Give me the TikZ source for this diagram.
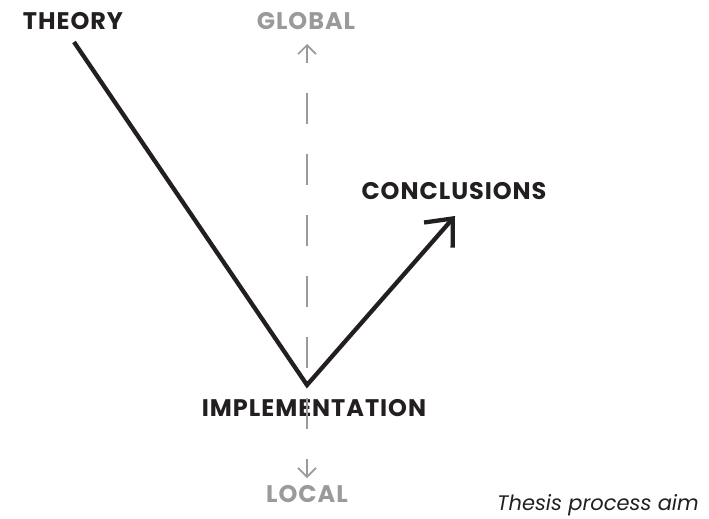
\documentclass[tikz,border=0pt]{standalone}
\usepackage{fontspec}
\setmainfont{Poppins}
\usepackage{xcolor}
\usetikzlibrary{arrows.meta, positioning}

\definecolor{inkdark}{HTML}{231F20}
\definecolor{scalegray}{HTML}{9A9A9A}

\begin{document}
\begin{tikzpicture}[x=1pt, y=-1pt,
    stage/.style={inner sep=0pt, text=inkdark, font=\fontsize{24}{24}\selectfont\bfseries\addfontfeature{LetterSpace=4}},
    scale label/.style={stage, text=scalegray},
    path line/.style={draw=inkdark, line width=4.3pt, line join=miter, -{Straight Barb[length=22pt, width=38pt]}},
    scale line/.style={draw=scalegray, line width=1.6pt, dash pattern=on 31pt off 30pt, dash phase=14pt,
        {Straight Barb[length=9pt, width=18pt]}-{Straight Barb[length=9pt, width=18pt]}}]
    \useasboundingbox (0, 0) rectangle (709, 519);

    \node[stage] (theory) at (73, 21) {THEORY};
    \node[scale label] (global) at (306, 21) {GLOBAL};
    \node[stage] (conclusions) at (454, 191) {CONCLUSIONS};
    \node[stage] (implementation) at (314, 408) {IMPLEMENTATION};
    \node[scale label] (local) at (307, 494) {LOCAL};
    \node[anchor=base west, inner sep=0pt, text=inkdark, font=\fontsize{21}{21}\selectfont\itshape] (caption) at (497, 510) {Thesis process aim};

    \coordinate (scaletop) at (307, 44);
    \coordinate (scalebottom) at (307, 478);
    \coordinate (linestart) at (74, 42);
    \coordinate (vertex) at (307, 385);
    \coordinate (linetip) at (455, 216);

    \draw[scale line] (scaletop) -- (scalebottom);
    \draw[path line] (linestart) -- (vertex) -- (linetip);
\end{tikzpicture}
\end{document}
